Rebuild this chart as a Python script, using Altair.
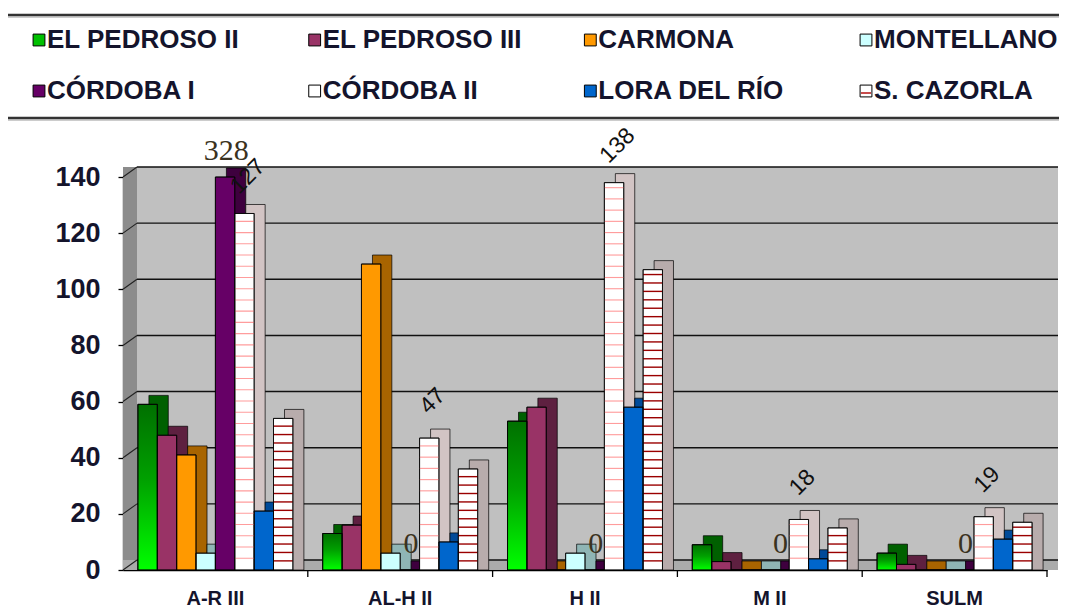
import altair as alt
import pandas as pd

# ---------------- data ----------------
CATEGORIES = ["A-R III", "AL-H II", "H II", "M II", "SULM"]
SERIES = ["EL PEDROSO II", "EL PEDROSO III", "CARMONA", "MONTELLANO",
          "CÓRDOBA I", "CÓRDOBA II", "LORA DEL RÍO", "S. CAZORLA"]
EL_PEDROSO_II = [59, 13, 53, 9, 6]
EL_PEDROSO_III = [48, 16, 58, 3, 2]
CARMONA = [41, 109, 0, 0, 0]
MONTELLANO = [6, 6, 6, 0, 0]
CORDOBA_I = [328, 0, 0, 0, 0]
CORDOBA_II = [127, 47, 138, 18, 19]
LORA_DEL_RIO = [21, 10, 58, 4, 11]
S_CAZORLA = [54, 36, 107, 15, 17]
Y_TICKS = [0, 20, 40, 60, 80, 100, 120, 140]

SERIES_VALUES = [EL_PEDROSO_II, EL_PEDROSO_III, CARMONA, MONTELLANO,
                 CORDOBA_I, CORDOBA_II, LORA_DEL_RIO, S_CAZORLA]

# ---------------- style ----------------
FRONT = ["#00C000", "#993366", "#FF9900", "#CCFFFF",
         "#660066", "#FFFFFF", "#0066CC", "#FFFFFF"]
SIDE = ["#006000", "#5E2040", "#A86400", "#8FB5B5",
        "#3E003E", "#D2C4C4", "#004A99", "#B8ACAC"]
SANS = "Liberation Sans, Arial, Helvetica, sans-serif"
SERIF = "Liberation Serif, Times New Roman, serif"
TXT = "#14142c"

W, H = 924, 393
DX, DY = 11, 9
STEP = W / len(CATEGORIES)
PAD_OUT = 0.77
YMAX = 140

rows = []
for s, vals in zip(SERIES, SERIES_VALUES):
    for c, v in zip(CATEGORIES, vals):
        rows.append({"cat": c, "series": s, "value": v})
df = pd.DataFrame(rows)

# decorative horizontal stripes for the patterned series (pattern spacing in data units)
STRIPES = {"CÓRDOBA II": (4.0, 0.4), "S. CAZORLA": (3.0, 0.5)}
srows = []
for _, r in df.iterrows():
    if r["series"] in STRIPES:
        step, thick = STRIPES[r["series"]]
        top = min(r["value"], YMAX)
        lvl = step
        while lvl < top - 0.5:
            srows.append({"cat": r["cat"], "series": r["series"], "lo": lvl, "hi": lvl + thick})
            lvl += step
stripes = pd.DataFrame(srows)

y_scale = alt.Scale(domain=[0, YMAX], clamp=True, nice=False, zero=True, range=[H, 0])
# depth faces: the same value scale moved up by DY pixels
y_back = alt.Scale(domain=[0, YMAX], nice=False, zero=False, range=[H - DY, -DY])
BACK_BASE = -DY * YMAX / H  # data level that the moved scale puts on the front floor line
x_scale = alt.Scale(domain=CATEGORIES, paddingInner=0, paddingOuter=0)


def xe(axis=None):
    return alt.X("cat:N", scale=x_scale, sort=CATEGORIES, axis=axis)


def xo(shift=0):
    return alt.XOffset("series:N", sort=SERIES,
                       scale=alt.Scale(domain=SERIES, paddingInner=0, paddingOuter=PAD_OUT,
                                       range=[shift, STEP + shift]))


one = alt.Data(values=[{"k": 1}])

# ---- background (walls / floor) ----
wall = alt.Chart(one).mark_rect(color="#C0C0C0").encode(
    x=alt.value(14), x2=alt.value(W + 11), y=alt.value(-10), y2=alt.value(H - 10))
side_wall = alt.Chart(one).mark_rect(color="#8C8C8C").encode(
    x=alt.value(0), x2=alt.value(14), y=alt.value(-10), y2=alt.value(H))
floor = alt.Chart(one).mark_rect(color="#ABABAB").encode(
    x=alt.value(0), x2=alt.value(W + 11), y=alt.value(H - 10), y2=alt.value(H))

gdf = pd.DataFrame({"v": Y_TICKS})
grid = alt.Chart(gdf).mark_rule(color="#111111", strokeWidth=1.4, yOffset=-10).encode(
    y=alt.Y("v:Q", scale=y_scale, axis=None), x=alt.value(14), x2=alt.value(W + 11))
side_grid = alt.Chart(gdf).mark_rule(color="#222222", strokeWidth=1.1, y2Offset=-10).encode(
    y=alt.Y("v:Q", scale=y_scale, axis=None), y2="v:Q", x=alt.value(0), x2=alt.value(14))

base = alt.Chart(df)

# top + right faces: same bars drawn shifted up/right
back = base.transform_calculate(
    vtop=f"min(datum.value, {YMAX})"
).mark_bar(stroke="black", strokeWidth=0.7).encode(
    x=xe(), xOffset=xo(DX),
    y=alt.Y("vtop:Q", scale=y_back, axis=None),
    y2=alt.datum(BACK_BASE),
    fill=alt.Fill("series:N", scale=alt.Scale(domain=SERIES, range=SIDE), legend=None),
)

y_axis = alt.Axis(values=Y_TICKS, grid=False, title=None, domainColor="black", domainWidth=1.3,
                  tickColor="black", tickSize=5, tickWidth=1.3, labelFont=SANS,
                  labelFontSize=27, labelFontWeight="bold", labelColor=TXT, labelPadding=18)
x_axis = alt.Axis(title=None, ticks=False, labelAngle=0, labelFont=SANS, labelFontSize=20,
                  labelFontWeight="bold", labelColor=TXT, labelPadding=18,
                  domainColor="black", domainWidth=1.5)

front = base.mark_bar(stroke="black", strokeWidth=0.7).encode(
    x=xe(x_axis), xOffset=xo(0),
    y=alt.Y("value:Q", scale=y_scale, axis=y_axis),
    color=alt.Color("series:N", scale=alt.Scale(domain=SERIES, range=FRONT), legend=None),
)

green = base.transform_filter(alt.datum.series == "EL PEDROSO II").mark_bar(
    stroke="black", strokeWidth=0.7,
    color=alt.Gradient(gradient="linear", x1=0, x2=0, y1=1, y2=0,
                       stops=[alt.GradientStop(color="#00FF00", offset=0),
                              alt.GradientStop(color="#00A000", offset=0.55),
                              alt.GradientStop(color="#007000", offset=1)]),
).encode(x=xe(), xOffset=xo(0), y=alt.Y("value:Q", scale=y_scale, axis=None))

sbase = alt.Chart(stripes)
stripe_c2 = sbase.transform_filter(alt.datum.series == "CÓRDOBA II").mark_bar(color="#FF9C9C").encode(
    x=xe(), xOffset=xo(0), y=alt.Y("lo:Q", scale=y_scale, axis=None), y2="hi:Q")
stripe_sc = sbase.transform_filter(alt.datum.series == "S. CAZORLA").mark_bar(color="#9A0000").encode(
    x=xe(), xOffset=xo(0), y=alt.Y("lo:Q", scale=y_scale, axis=None), y2="hi:Q")

outline = base.mark_bar(fillOpacity=0, stroke="black", strokeWidth=0.8).encode(
    x=xe(), xOffset=xo(0), y=alt.Y("value:Q", scale=y_scale, axis=None))

lab_c1 = base.transform_filter(alt.datum.series == "CÓRDOBA I").mark_text(
    font=SERIF, fontSize=30, align="center", baseline="alphabetic", yOffset=-17, color="#3a3220"
).encode(x=xe(), xOffset=xo(0), y=alt.Y("value:Q", scale=y_scale, axis=None), text="value:Q")

lab_c2 = base.transform_filter(alt.datum.series == "CÓRDOBA II").mark_text(
    font=SANS, fontSize=23, align="center", baseline="middle", angle=315, yOffset=-37, color="#111111"
).encode(x=xe(), xOffset=xo(0), y=alt.Y("value:Q", scale=y_scale, axis=None), text="value:Q")

xticks = alt.Chart(pd.DataFrame({"cat": CATEGORIES})).mark_rule(color="black", strokeWidth=1.3).encode(
    x=alt.X("cat:N", scale=x_scale, sort=CATEGORIES, axis=None, bandPosition=1),
    y=alt.value(H), y2=alt.value(H + 7))

rule_top = alt.Chart(one).mark_rule(color="#333333", strokeWidth=2.5).encode(
    x=alt.value(-115), x2=alt.value(936), y=alt.value(-162))
rule_top2 = alt.Chart(one).mark_rule(color="#9A9A9A", strokeWidth=1).encode(
    x=alt.value(-115), x2=alt.value(936), y=alt.value(-160))
rule_bot = alt.Chart(one).mark_rule(color="#333333", strokeWidth=2.5).encode(
    x=alt.value(-115), x2=alt.value(936), y=alt.value(-59))
rule_bot2 = alt.Chart(one).mark_rule(color="#9A9A9A", strokeWidth=1).encode(
    x=alt.value(-115), x2=alt.value(936), y=alt.value(-57))

main = alt.layer(
    wall, side_wall, floor, grid, side_grid,
    back, front, green, stripe_c2, stripe_sc, outline,
    lab_c2, lab_c1, xticks,
    rule_top, rule_top2, rule_bot, rule_bot2,
).resolve_scale(xOffset="independent", y="independent").resolve_axis(x="independent", y="independent")

# ---- legend (4 x 2 grid) ----
leg = alt.Chart(pd.DataFrame({"series": SERIES})).transform_window(
    idx="row_number()"
).transform_calculate(
    col="(datum.idx - 1) % 4", row="floor((datum.idx - 1) / 4)"
)
lx = alt.X("col:Q", scale=alt.Scale(domain=[0, 3], range=[-84, 743], nice=False, zero=False), axis=None)
ly = alt.Y("row:Q", scale=alt.Scale(domain=[0, 1], range=[-137, -86], nice=False, zero=False), axis=None)
leg_sq = leg.mark_square(size=140, stroke="black", strokeWidth=1, opacity=1).encode(
    x=lx, y=ly, color=alt.Color("series:N", scale=alt.Scale(domain=SERIES, range=FRONT), legend=None))
leg_mark = leg.transform_filter(alt.datum.series == "S. CAZORLA").mark_tick(
    orient="horizontal", size=10, thickness=2, color="#B00000", yOffset=2).encode(x=lx, y=ly)
leg_tx = leg.mark_text(align="left", baseline="middle", dx=8, font=SANS, fontSize=26,
                       fontWeight="bold", color=TXT).encode(x=lx, y=ly, text="series:N")
legend = alt.layer(leg_sq, leg_mark, leg_tx)

chart = alt.layer(main, legend).resolve_scale(
    x="independent", y="independent", xOffset="independent"
).resolve_axis(x="independent", y="independent").properties(
    width=W, height=H,
    padding={"left": 115, "top": 169, "right": 12, "bottom": 42},
    autosize=alt.AutoSizeParams(type="none"),
).configure_view(stroke=None)

chart.save("out.html", embed_options={"renderer": "svg", "actions": False})
